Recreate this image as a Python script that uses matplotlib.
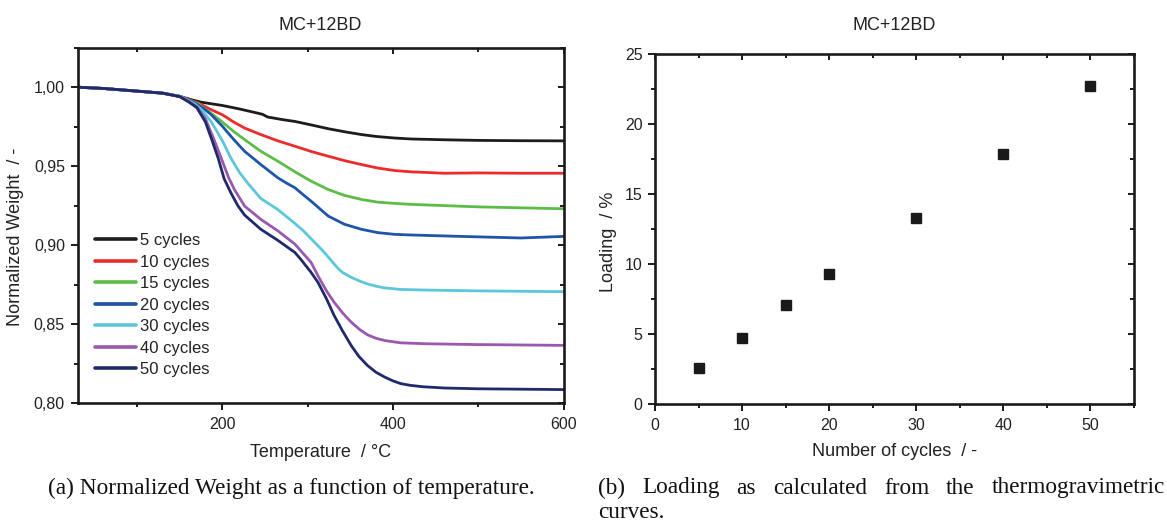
import matplotlib
matplotlib.use("Agg")
import matplotlib.pyplot as plt
from matplotlib.ticker import MultipleLocator, FuncFormatter

# ---------------- data ----------------
labels = ["5 cycles", "10 cycles", "15 cycles", "20 cycles", "30 cycles", "40 cycles", "50 cycles"]
colors = ["#1c1c1c", "#ee2b2b", "#5bbd46", "#1f55a8", "#5cc6da", "#9a58ae", "#1f2a6a"]

T_5 = [30, 60, 100, 130, 150, 164, 175, 200, 220, 241, 247, 253, 270, 285, 305, 324, 345, 363, 380, 402, 421, 460, 500, 550, 600]
W_5 = [1.000, 0.9992, 0.9975, 0.9962, 0.9942, 0.9920, 0.9905, 0.9884, 0.9862, 0.9836, 0.9828, 0.9811, 0.9795, 0.9783, 0.9760,
       0.9737, 0.9716, 0.9700, 0.9688, 0.9678, 0.9672, 0.9667, 0.9663, 0.9661, 0.9660]

T_10 = [30, 60, 100, 130, 150, 160, 172, 185, 200, 213, 226, 245, 265, 285, 304, 324, 343, 363, 382, 402, 421, 460, 500, 550, 600]
W_10 = [1.000, 0.9992, 0.9975, 0.9962, 0.9942, 0.9922, 0.9899, 0.9862, 0.9825, 0.9780, 0.9741, 0.9700, 0.9660, 0.9626, 0.9593,
        0.9563, 0.9535, 0.9510, 0.9488, 0.9472, 0.9464, 0.9455, 0.9457, 0.9455, 0.9455]

T_15 = [30, 60, 100, 130, 150, 160, 172, 186, 200, 213, 226, 245, 265, 285, 304, 324, 343, 363, 382, 402, 421, 460, 500, 550, 600]
W_15 = [1.000, 0.9992, 0.9975, 0.9962, 0.9942, 0.9920, 0.9893, 0.9837, 0.9779, 0.9720, 0.9668, 0.9594, 0.9531, 0.9464, 0.9405,
        0.9352, 0.9315, 0.9289, 0.9272, 0.9264, 0.9258, 0.9250, 0.9242, 0.9236, 0.9230]

T_20 = [30, 60, 100, 130, 150, 160, 168, 178, 187, 200, 213, 226, 245, 265, 275, 285, 294, 304, 324, 343, 363, 382, 402, 421, 480,
        550, 600]
W_20 = [1.000, 0.9992, 0.9975, 0.9962, 0.9942, 0.9918, 0.9899, 0.9865, 0.9825, 0.9752, 0.9670, 0.9594, 0.9510, 0.9426, 0.9393,
        0.9363, 0.9322, 0.9278, 0.9184, 0.9132, 0.9100, 0.9079, 0.9068, 0.9064, 0.9055, 0.9045, 0.9055]

T_30 = [30, 60, 100, 130, 150, 160, 168, 175, 187, 200, 210, 220, 230, 245, 265, 285, 295, 304, 316, 324, 331, 336, 341, 351, 361,
        370, 380, 390, 409, 440, 500, 600]
W_30 = [1.000, 0.9992, 0.9975, 0.9962, 0.9942, 0.9915, 0.9892, 0.9860, 0.9780, 0.9660, 0.9550, 0.9460, 0.9390, 0.9295, 0.9225,
        0.9137, 0.9090, 0.9040, 0.8974, 0.8925, 0.8880, 0.8850, 0.8826, 0.8796, 0.8772, 0.8754, 0.8740, 0.8729, 0.8719, 0.8715,
        0.8710, 0.8705]

T_40 = [30, 60, 100, 130, 150, 160, 170, 180, 190, 200, 207, 214, 226, 245, 265, 285, 292, 304, 312, 322, 331, 341, 351, 361,
        370, 380, 390, 409, 440, 500, 600]
W_40 = [1.000, 0.9992, 0.9975, 0.9962, 0.9940, 0.9910, 0.9875, 0.9800, 0.9670, 0.9530, 0.9430, 0.9352, 0.9247, 0.9163, 0.9090,
        0.9006, 0.8963, 0.8890, 0.8806, 0.8710, 0.8638, 0.8570, 0.8512, 0.8465, 0.8432, 0.8410, 0.8396, 0.8381, 0.8375, 0.8370,
        0.8365]

T_50 = [30, 60, 100, 130, 150, 160, 170, 180, 188, 195, 202, 210, 218, 226, 245, 265, 285, 292, 304, 312, 322, 331, 341, 351,
        360, 370, 380, 390, 400, 409, 420, 435, 460, 500, 600]
W_50 = [1.000, 0.9992, 0.9975, 0.9962, 0.9940, 0.9908, 0.9870, 0.9780, 0.9660, 0.9550, 0.9420, 0.9330, 0.9250, 0.9190, 0.9100,
        0.9030, 0.8953, 0.8909, 0.8827, 0.8764, 0.8660, 0.8554, 0.8455, 0.8364, 0.8295, 0.8238, 0.8195, 0.8165, 0.8140, 0.8123,
        0.8112, 0.8103, 0.8095, 0.8090, 0.8085]

temps = [T_5, T_10, T_15, T_20, T_30, T_40, T_50]
weights = [W_5, W_10, W_15, W_20, W_30, W_40, W_50]

cycles = [5, 10, 15, 20, 30, 40, 50]
loading = [2.55, 4.73, 7.04, 9.28, 13.32, 17.86, 22.74]

title = "MC+12BD"
caption_a = "(a) Normalized Weight as a function of temperature."
caption_b_words = ["(b)", "Loading", "as", "calculated", "from", "the", "thermogravimetric"]
caption_b_line2 = "curves."

# ---------------- figure ----------------
W, H, DPI = 1167, 522, 100
fig = plt.figure(figsize=(W / DPI, H / DPI), dpi=DPI)
plt.rcParams["font.family"] = ["Liberation Sans", "DejaVu Sans"]
txt_col = "#222222"


def px_axes(l, t, r, b):
    return fig.add_axes([l / W, 1 - b / H, (r - l) / W, (b - t) / H])


def setup(ax, xmaj, xmin, ymaj, ymin, yfmt=None):
    ax.xaxis.set_major_locator(MultipleLocator(xmaj))
    ax.xaxis.set_minor_locator(MultipleLocator(xmin))
    ax.yaxis.set_major_locator(MultipleLocator(ymaj))
    ax.yaxis.set_minor_locator(MultipleLocator(ymin))
    if yfmt is not None:
        ax.yaxis.set_major_formatter(yfmt)
    for s in ax.spines.values():
        s.set_linewidth(1.9)
        s.set_color("#1a1a1a")
    ax.tick_params(which="both", colors="#1a1a1a", labelcolor=txt_col, labelsize=11.5, width=1.4)
    ax.tick_params(which="major", direction="out", length=5)
    ax.tick_params(which="minor", direction="out", length=3)
    ax.tick_params(axis="y", which="major", pad=4)
    ax.tick_params(axis="x", which="major", pad=5)
    top = ax.secondary_xaxis("top")
    top.xaxis.set_major_locator(MultipleLocator(xmaj))
    top.xaxis.set_minor_locator(MultipleLocator(xmin))
    top.tick_params(which="both", direction="in", labeltop=False, width=1.4, colors="#1a1a1a")
    top.tick_params(which="major", length=4)
    top.tick_params(which="minor", length=3)
    top.spines["top"].set_visible(False)
    right = ax.secondary_yaxis("right")
    right.yaxis.set_major_locator(MultipleLocator(ymaj))
    right.yaxis.set_minor_locator(MultipleLocator(ymin))
    right.tick_params(which="both", direction="in", labelright=False, width=1.4, colors="#1a1a1a")
    right.tick_params(which="major", length=4)
    right.tick_params(which="minor", length=3)
    right.spines["right"].set_visible(False)


ax1 = px_axes(77.5, 47.7, 563.5, 403)
ax2 = px_axes(655, 54, 1134, 404)

# left panel
for T, Wt, c, lab in zip(temps, weights, colors, labels):
    ax1.plot(T, Wt, color=c, lw=2.0, label=lab, solid_joinstyle="round", solid_capstyle="round")
ax1.set_xlim(30, 600)
ax1.set_ylim(0.80, 1.025)
setup(ax1, 200, 100, 0.05, 0.025, FuncFormatter(lambda v, p: f"{v:.2f}".replace(".", ",")))
ax1.set_xlabel("Temperature  / °C", fontsize=13, color=txt_col, va="center")
ax1.set_ylabel("Normalized Weight  / -", fontsize=13, color=txt_col, va="center")
ax1.xaxis.set_label_coords(0.5, -0.138)
ax1.yaxis.set_label_coords(-0.128, 0.468)
leg = ax1.legend(loc="upper left", bbox_to_anchor=(0.022, 0.497), frameon=False, fontsize=12,
                 handlelength=2.45, handletextpad=0.25, labelspacing=0.39, borderaxespad=0)
for line in leg.get_lines():
    line.set_linewidth(2.6)
for t in leg.get_texts():
    t.set_color(txt_col)

# right panel
ax2.plot(cycles, loading, linestyle="none", marker="s", ms=6.8, color="#1a1a1a")
ax2.set_xlim(0, 55)
ax2.set_ylim(0, 25)
setup(ax2, 10, 5, 5, 2.5)
ax2.set_xlabel("Number of cycles  / -", fontsize=13, color=txt_col, va="center")
ax2.set_ylabel("Loading  / %", fontsize=13, color=txt_col, va="center")
ax2.xaxis.set_label_coords(0.5, -0.137)
ax2.yaxis.set_label_coords(-0.098, 0.464)

# titles
fig.text(320 / W, 1 - 25 / H, title, ha="center", va="center", fontsize=13, color=txt_col)
fig.text(894 / W, 1 - 25 / H, title, ha="center", va="center", fontsize=13, color=txt_col)

# captions (serif), fitted to the reference widths
serif = ["Liberation Serif", "DejaVu Serif"]
renderer = fig.canvas.get_renderer()
ta = fig.text(48 / W, 1 - 488 / H, caption_a, ha="left", va="center", fontsize=14, family=serif, color="#111111")
wa = ta.get_window_extent(renderer).width
fs = 14 * (535 - 48) / wa
ta.set_fontsize(fs)

word_objs = []
for wd in caption_b_words:
    word_objs.append(fig.text(0, 1 - 488 / H, wd, ha="left", va="center", fontsize=fs, family=serif, color="#111111"))
widths = [o.get_window_extent(renderer).width for o in word_objs]
gap = ((1165 - 598) - sum(widths)) / (len(widths) - 1)
x = 598.0
for o, wdt in zip(word_objs, widths):
    o.set_x(x / W)
    x += wdt + gap
fig.text(598 / W, 1 - 513 / H, caption_b_line2, ha="left", va="center", fontsize=fs, family=serif, color="#111111")

fig.savefig("out.png", dpi=DPI)
